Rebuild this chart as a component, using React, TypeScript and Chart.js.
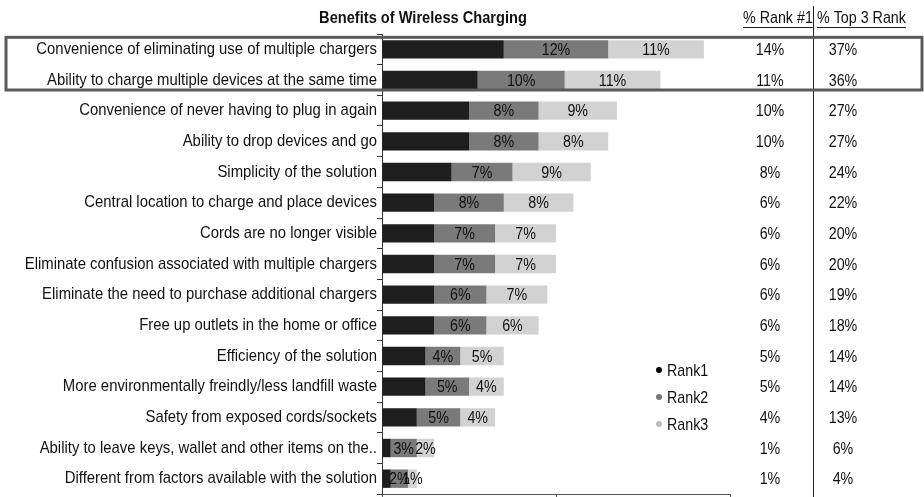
import React, { useEffect, useRef } from "react";
import { Chart, registerables } from "chart.js";

Chart.register(...registerables);

const categories = [
  "Convenience of eliminating use of multiple chargers",
  "Ability to charge multiple devices at the same time",
  "Convenience of never having to plug in again",
  "Ability to drop devices and go",
  "Simplicity of the solution",
  "Central location to charge and place devices",
  "Cords are no longer visible",
  "Eliminate confusion associated with multiple chargers",
  "Eliminate the need to purchase additional chargers",
  "Free up outlets in the home or office",
  "Efficiency of the solution",
  "More environmentally freindly/less landfill waste",
  "Safety from exposed cords/sockets",
  "Ability to leave keys, wallet and other items on the..",
  "Different from factors available with the solution",
];
const rank1 = [14, 11, 10, 10, 8, 6, 6, 6, 6, 6, 5, 5, 4, 1, 1];
const rank2 = [12, 10, 8, 8, 7, 8, 7, 7, 6, 6, 4, 5, 5, 3, 2];
const rank3 = [11, 11, 9, 8, 9, 8, 7, 7, 7, 6, 5, 4, 4, 2, 1];
const pctRank1 = [14, 11, 10, 10, 8, 6, 6, 6, 6, 6, 5, 5, 4, 1, 1];
const pctTop3 = [37, 36, 27, 27, 24, 22, 20, 20, 19, 18, 14, 14, 13, 6, 4];
const seriesNames = ["Rank1", "Rank2", "Rank3"];
const xTicks = [0, 20, 40];

const FAMILY = "'Liberation Sans', Arial, sans-serif";
const colors = ["#1e1e1e", "#7a7a7a", "#d2d2d2"];

function txt(ctx: any, s: string, x: number, y: number, align: string, font: string, sx = 0.84, color = "#111") {
  ctx.save();
  ctx.font = font;
  ctx.fillStyle = color;
  ctx.textBaseline = "middle";
  ctx.textAlign = "left";
  const w = ctx.measureText(s).width * sx;
  const x0 = align === "center" ? x - w / 2 : align === "right" ? x - w : x;
  ctx.translate(x0, y);
  ctx.scale(sx, 1);
  ctx.fillText(s, 0, 0);
  ctx.restore();
  return w;
}

const overlay = {
  id: "overlay",
  afterDatasetsDraw(chart: any) {
    const ctx = chart.ctx;
    const font = `17px ${FAMILY}`;
    [1, 2].forEach((di) => {
      const meta = chart.getDatasetMeta(di);
      meta.data.forEach((el: any, i: number) => {
        const p = el.getProps(["x", "base", "y"], true);
        const v = chart.data.datasets[di].data[i];
        txt(ctx, `${v}%`, (p.x + p.base) / 2, p.y + 1, "center", font);
      });
    });
  },
  afterDraw(chart: any) {
    const ctx = chart.ctx;
    const y = chart.scales.y;
    const font = `17px ${FAMILY}`;
    // category labels
    categories.forEach((c, i) => {
      txt(ctx, c, 377, y.getPixelForValue(i), "right", font, 0.875);
    });
    // title
    txt(ctx, "Benefits of Wireless Charging", 423, 18, "center", `bold 17px ${FAMILY}`, 0.86);
    // headers
    const w1 = txt(ctx, "% Rank #1", 743, 18, "left", font);
    const w2 = txt(ctx, "% Top 3 Rank", 817, 18, "left", font);
    ctx.save();
    ctx.strokeStyle = "#222";
    ctx.lineWidth = 1;
    ctx.beginPath();
    ctx.moveTo(743, 27.5);
    ctx.lineTo(743 + w1, 27.5);
    ctx.moveTo(817, 27.5);
    ctx.lineTo(817 + w2, 27.5);
    ctx.stroke();
    ctx.beginPath();
    ctx.moveTo(813.5, 6);
    ctx.lineTo(813.5, 497);
    ctx.stroke();
    ctx.restore();
    // table values
    categories.forEach((_, i) => {
      const py = y.getPixelForValue(i) + 1;
      txt(ctx, `${pctRank1[i]}%`, 770, py, "center", font);
      txt(ctx, `${pctTop3[i]}%`, 843, py, "center", font);
    });
    // highlight box
    ctx.save();
    ctx.strokeStyle = "#5a5a5a";
    ctx.lineWidth = 3;
    const top = y.getPixelForValue(0) - 12;
    const bot = y.getPixelForValue(1) + 10;
    ctx.strokeRect(6, top, 916, bot - top);
    ctx.restore();
    // legend
    seriesNames.forEach((n, i) => {
      const ly = 370 + i * 27;
      ctx.save();
      ctx.fillStyle = i === 0 ? "#000" : i === 1 ? "#777" : "#bbb";
      ctx.beginPath();
      ctx.arc(659, ly, 3, 0, Math.PI * 2);
      ctx.fill();
      ctx.restore();
      txt(ctx, n, 667, ly + 1, "left", font);
    });
  },
};

export default function App() {
  const ref = useRef<HTMLCanvasElement | null>(null);
  useEffect(() => {
    if (!ref.current) return;
    const chart = new Chart(ref.current, {
      type: "bar",
      data: {
        labels: categories,
        datasets: [rank1, rank2, rank3].map((d, i) => ({
          label: seriesNames[i],
          data: d,
          backgroundColor: colors[i],
          borderWidth: 0,
          barPercentage: 0.6,
          categoryPercentage: 1,
        })),
      },
      options: {
        indexAxis: "y",
        responsive: false,
        animation: false,
        layout: { padding: { left: 0, right: 194, top: 34, bottom: 0 } },
        plugins: { legend: { display: false }, tooltip: { enabled: false } },
        scales: {
          x: {
            stacked: true,
            min: 0,
            max: 40,
            afterBuildTicks: (s: any) => {
              s.ticks = xTicks.map((v) => ({ value: v }));
            },
            afterFit: (s: any) => {
              s.height = 3;
            },
            ticks: { display: false },
            grid: { drawOnChartArea: false, tickLength: 5, color: "#555" },
            border: { display: true, color: "#555", width: 1 },
          },
          y: {
            stacked: true,
            afterFit: (s: any) => {
              s.width = 382;
            },
            ticks: { display: false, autoSkip: false },
            grid: { drawOnChartArea: false, tickLength: 5, color: "#333", offset: true },
            border: { display: true, color: "#333", width: 1 },
          },
        },
      },
      plugins: [overlay],
    } as any);
    return () => chart.destroy();
  }, []);
  return (
    <div style={{ position: "fixed", left: 0, top: 0, width: 924, height: 497, background: "#fff" }}>
      <canvas ref={ref} width={924} height={497} />
    </div>
  );
}
